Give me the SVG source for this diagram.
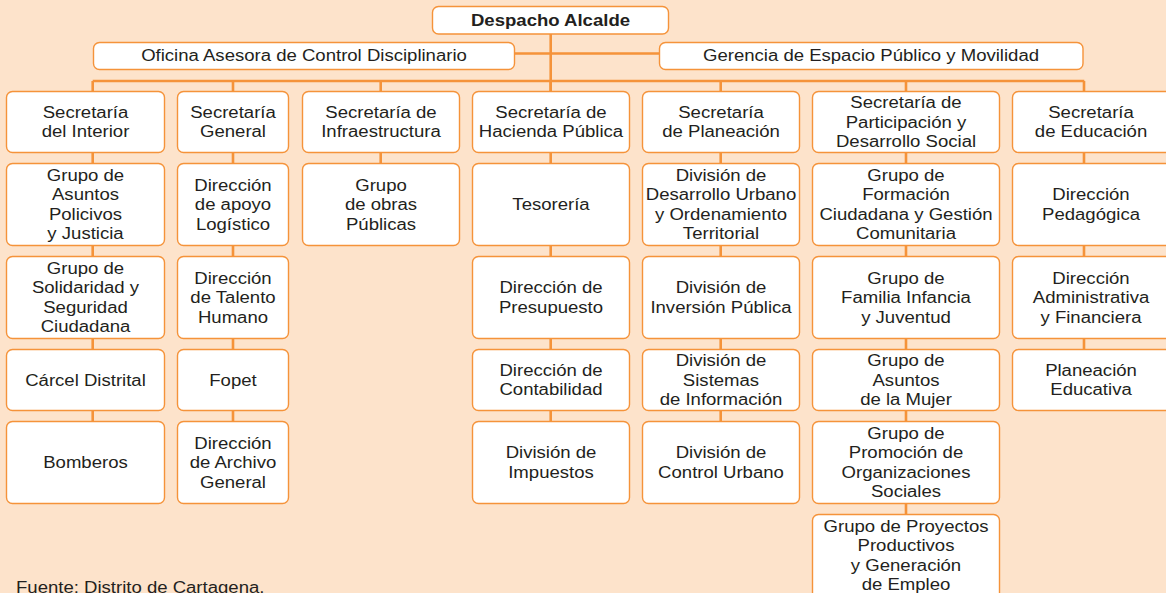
<svg xmlns="http://www.w3.org/2000/svg" width="1166" height="593" viewBox="0 0 1166 593">
<style>
.bg{fill:#fde3cb}
.box{fill:#ffffff;stroke:#f5933a;stroke-width:1.4}
.ln{fill:none;stroke:#f5933a;stroke-width:2.6}
text{font-family:"Liberation Sans",Arial,sans-serif;font-size:16px;fill:#231f20;text-anchor:middle}
.b{font-weight:bold}
.l{text-anchor:start}
</style>
<rect class="bg" x="0" y="0" width="1166" height="593"/>
<g id="connectors">
<path class="ln" d="M550.7 34V91M515 53.5H659M92.7 81H1084.3"/>
<path class="ln" d="M92.7 81V421M233 81V421M380.7 81V163M550.7 81V421M720.7 81V421M906 81V514M1084 81V349"/>
</g>
<g id="n-despacho"><rect class="box" x="432.5" y="6.5" width="236" height="27.5" rx="6"/><text class="b" transform="translate(550.5 0) scale(1.16 1)" x="0" y="25.7">Despacho Alcalde</text></g>
<g id="n-oficina"><rect class="box" x="93.5" y="42.5" width="421" height="27" rx="6"/><text transform="translate(304 0) scale(1.16 1)" x="0" y="61.2">Oficina Asesora de Control Disciplinario</text></g>
<g id="n-gerencia"><rect class="box" x="659.5" y="42.5" width="423.5" height="27" rx="6"/><text transform="translate(871 0) scale(1.16 1)" x="0" y="61.2">Gerencia de Espacio Público y Movilidad</text></g>

<g id="n-sec-interior"><rect class="box" x="6.5" y="91.5" width="158" height="61" rx="6"/><text transform="translate(85.5 0) scale(1.16 1)" y="117.95"><tspan x="0">Secretaría</tspan><tspan x="0" dy="19.5">del Interior</tspan></text></g>
<g id="n-asuntos-policivos"><rect class="box" x="6.5" y="163.5" width="158" height="82" rx="6"/><text transform="translate(85.5 0) scale(1.16 1)" y="180.95"><tspan x="0">Grupo de</tspan><tspan x="0" dy="19.5">Asuntos</tspan><tspan x="0" dy="19.5">Policivos</tspan><tspan x="0" dy="19.5">y Justicia</tspan></text></g>
<g id="n-solidaridad"><rect class="box" x="6.5" y="256.5" width="158" height="82" rx="6"/><text transform="translate(85.5 0) scale(1.16 1)" y="273.95"><tspan x="0">Grupo de</tspan><tspan x="0" dy="19.5">Solidaridad y</tspan><tspan x="0" dy="19.5">Seguridad</tspan><tspan x="0" dy="19.5">Ciudadana</tspan></text></g>
<g id="n-carcel"><rect class="box" x="6.5" y="349.5" width="158" height="61" rx="6"/><text transform="translate(85.5 0) scale(1.16 1)" x="0" y="385.7">Cárcel Distrital</text></g>
<g id="n-bomberos"><rect class="box" x="6.5" y="421.5" width="158" height="82" rx="6"/><text transform="translate(85.5 0) scale(1.16 1)" x="0" y="468.2">Bomberos</text></g>

<g id="n-sec-general"><rect class="box" x="177.5" y="91.5" width="111" height="61" rx="6"/><text transform="translate(233 0) scale(1.16 1)" y="117.95"><tspan x="0">Secretaría</tspan><tspan x="0" dy="19.5">General</tspan></text></g>
<g id="n-apoyo"><rect class="box" x="177.5" y="163.5" width="111" height="82" rx="6"/><text transform="translate(233 0) scale(1.16 1)" y="190.7"><tspan x="0">Dirección</tspan><tspan x="0" dy="19.5">de apoyo</tspan><tspan x="0" dy="19.5">Logístico</tspan></text></g>
<g id="n-talento"><rect class="box" x="177.5" y="256.5" width="111" height="82" rx="6"/><text transform="translate(233 0) scale(1.16 1)" y="283.7"><tspan x="0">Dirección</tspan><tspan x="0" dy="19.5">de Talento</tspan><tspan x="0" dy="19.5">Humano</tspan></text></g>
<g id="n-fopet"><rect class="box" x="177.5" y="349.5" width="111" height="61" rx="6"/><text transform="translate(233 0) scale(1.16 1)" x="0" y="385.7">Fopet</text></g>
<g id="n-archivo"><rect class="box" x="177.5" y="421.5" width="111" height="82" rx="6"/><text transform="translate(233 0) scale(1.16 1)" y="448.7"><tspan x="0">Dirección</tspan><tspan x="0" dy="19.5">de Archivo</tspan><tspan x="0" dy="19.5">General</tspan></text></g>

<g id="n-sec-infra"><rect class="box" x="302.5" y="91.5" width="157" height="61" rx="6"/><text transform="translate(381 0) scale(1.16 1)" y="117.95"><tspan x="0">Secretaría de</tspan><tspan x="0" dy="19.5">Infraestructura</tspan></text></g>
<g id="n-obras"><rect class="box" x="302.5" y="163.5" width="157" height="82" rx="6"/><text transform="translate(381 0) scale(1.16 1)" y="190.7"><tspan x="0">Grupo</tspan><tspan x="0" dy="19.5">de obras</tspan><tspan x="0" dy="19.5">Públicas</tspan></text></g>

<g id="n-sec-hacienda"><rect class="box" x="472.5" y="91.5" width="157" height="61" rx="6"/><text transform="translate(551 0) scale(1.16 1)" y="117.95"><tspan x="0">Secretaría de</tspan><tspan x="0" dy="19.5">Hacienda Pública</tspan></text></g>
<g id="n-tesoreria"><rect class="box" x="472.5" y="163.5" width="157" height="82" rx="6"/><text transform="translate(551 0) scale(1.16 1)" x="0" y="210.2">Tesorería</text></g>
<g id="n-presupuesto"><rect class="box" x="472.5" y="256.5" width="157" height="82" rx="6"/><text transform="translate(551 0) scale(1.16 1)" y="293.45"><tspan x="0">Dirección de</tspan><tspan x="0" dy="19.5">Presupuesto</tspan></text></g>
<g id="n-contabilidad"><rect class="box" x="472.5" y="349.5" width="157" height="61" rx="6"/><text transform="translate(551 0) scale(1.16 1)" y="375.95"><tspan x="0">Dirección de</tspan><tspan x="0" dy="19.5">Contabilidad</tspan></text></g>
<g id="n-impuestos"><rect class="box" x="472.5" y="421.5" width="157" height="82" rx="6"/><text transform="translate(551 0) scale(1.16 1)" y="458.45"><tspan x="0">División de</tspan><tspan x="0" dy="19.5">Impuestos</tspan></text></g>

<g id="n-sec-planeacion"><rect class="box" x="642.5" y="91.5" width="157" height="61" rx="6"/><text transform="translate(721 0) scale(1.16 1)" y="117.95"><tspan x="0">Secretaría</tspan><tspan x="0" dy="19.5">de Planeación</tspan></text></g>
<g id="n-desarrollo-urbano"><rect class="box" x="642.5" y="163.5" width="157" height="82" rx="6"/><text transform="translate(721 0) scale(1.16 1)" y="180.95"><tspan x="0">División de</tspan><tspan x="0" dy="19.5">Desarrollo Urbano</tspan><tspan x="0" dy="19.5">y Ordenamiento</tspan><tspan x="0" dy="19.5">Territorial</tspan></text></g>
<g id="n-inversion"><rect class="box" x="642.5" y="256.5" width="157" height="82" rx="6"/><text transform="translate(721 0) scale(1.16 1)" y="293.45"><tspan x="0">División de</tspan><tspan x="0" dy="19.5">Inversión Pública</tspan></text></g>
<g id="n-sistemas"><rect class="box" x="642.5" y="349.5" width="157" height="61" rx="6"/><text transform="translate(721 0) scale(1.16 1)" y="366.2"><tspan x="0">División de</tspan><tspan x="0" dy="19.5">Sistemas</tspan><tspan x="0" dy="19.5">de Información</tspan></text></g>
<g id="n-control-urbano"><rect class="box" x="642.5" y="421.5" width="157" height="82" rx="6"/><text transform="translate(721 0) scale(1.16 1)" y="458.45"><tspan x="0">División de</tspan><tspan x="0" dy="19.5">Control Urbano</tspan></text></g>

<g id="n-sec-participacion"><rect class="box" x="812.5" y="91.5" width="187" height="61" rx="6"/><text transform="translate(906 0) scale(1.16 1)" y="108.2"><tspan x="0">Secretaría de</tspan><tspan x="0" dy="19.5">Participación y</tspan><tspan x="0" dy="19.5">Desarrollo Social</tspan></text></g>
<g id="n-formacion"><rect class="box" x="812.5" y="163.5" width="187" height="82" rx="6"/><text transform="translate(906 0) scale(1.16 1)" y="180.95"><tspan x="0">Grupo de</tspan><tspan x="0" dy="19.5">Formación</tspan><tspan x="0" dy="19.5">Ciudadana y Gestión</tspan><tspan x="0" dy="19.5">Comunitaria</tspan></text></g>
<g id="n-familia"><rect class="box" x="812.5" y="256.5" width="187" height="82" rx="6"/><text transform="translate(906 0) scale(1.16 1)" y="283.7"><tspan x="0">Grupo de</tspan><tspan x="0" dy="19.5">Familia Infancia</tspan><tspan x="0" dy="19.5">y Juventud</tspan></text></g>
<g id="n-mujer"><rect class="box" x="812.5" y="349.5" width="187" height="61" rx="6"/><text transform="translate(906 0) scale(1.16 1)" y="366.2"><tspan x="0">Grupo de</tspan><tspan x="0" dy="19.5">Asuntos</tspan><tspan x="0" dy="19.5">de la Mujer</tspan></text></g>
<g id="n-promocion"><rect class="box" x="812.5" y="421.5" width="187" height="82" rx="6"/><text transform="translate(906 0) scale(1.16 1)" y="438.95"><tspan x="0">Grupo de</tspan><tspan x="0" dy="19.5">Promoción de</tspan><tspan x="0" dy="19.5">Organizaciones</tspan><tspan x="0" dy="19.5">Sociales</tspan></text></g>
<g id="n-proyectos"><rect class="box" x="812.5" y="514.5" width="187" height="90" rx="6"/><text transform="translate(906 0) scale(1.16 1)" y="531.95"><tspan x="0">Grupo de Proyectos</tspan><tspan x="0" dy="19.5">Productivos</tspan><tspan x="0" dy="19.5">y Generación</tspan><tspan x="0" dy="19.5">de Empleo</tspan></text></g>

<g id="n-sec-educacion"><rect class="box" x="1012.5" y="91.5" width="160" height="61" rx="6"/><text transform="translate(1091 0) scale(1.16 1)" y="117.95"><tspan x="0">Secretaría</tspan><tspan x="0" dy="19.5">de Educación</tspan></text></g>
<g id="n-pedagogica"><rect class="box" x="1012.5" y="163.5" width="160" height="82" rx="6"/><text transform="translate(1091 0) scale(1.16 1)" y="200.45"><tspan x="0">Dirección</tspan><tspan x="0" dy="19.5">Pedagógica</tspan></text></g>
<g id="n-administrativa"><rect class="box" x="1012.5" y="256.5" width="160" height="82" rx="6"/><text transform="translate(1091 0) scale(1.16 1)" y="283.7"><tspan x="0">Dirección</tspan><tspan x="0" dy="19.5">Administrativa</tspan><tspan x="0" dy="19.5">y Financiera</tspan></text></g>
<g id="n-planeacion-educativa"><rect class="box" x="1012.5" y="349.5" width="160" height="61" rx="6"/><text transform="translate(1091 0) scale(1.16 1)" y="375.95"><tspan x="0">Planeación</tspan><tspan x="0" dy="19.5">Educativa</tspan></text></g>

<text class="l" transform="translate(16 0) scale(1.16 1)" x="0" y="593">Fuente: Distrito de Cartagena.</text>
</svg>
